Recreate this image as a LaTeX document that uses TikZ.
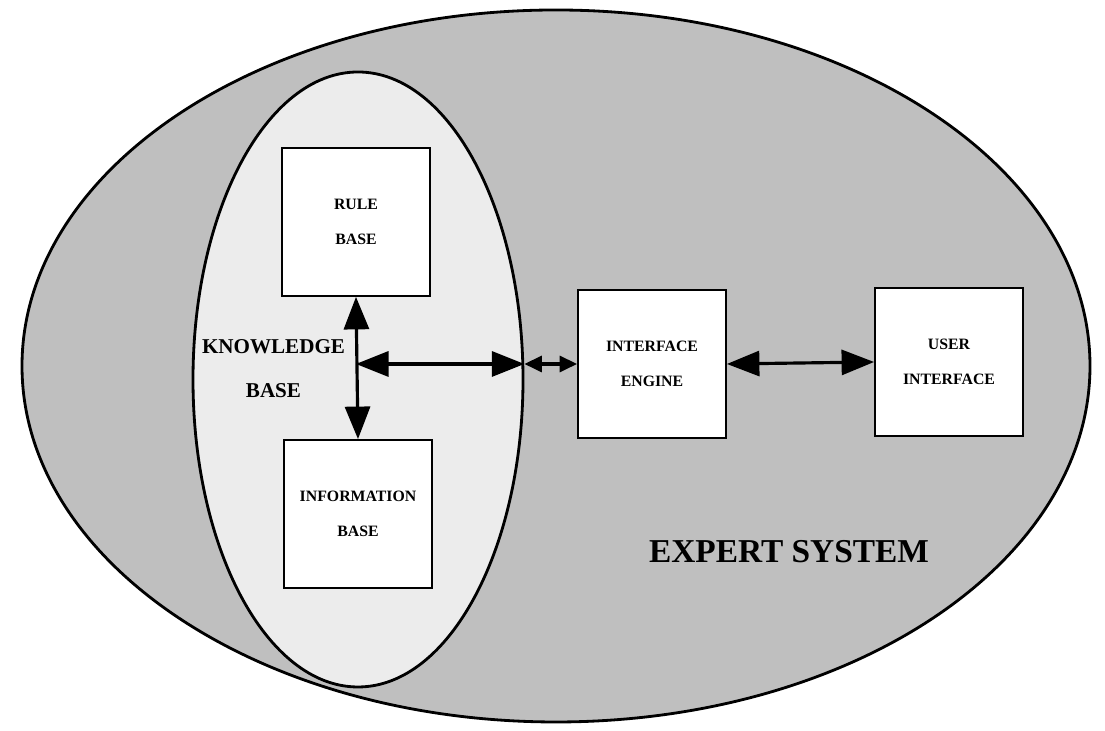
\documentclass[tikz,border=0pt]{standalone}
\usepackage{fontspec}
\setmainfont{Liberation Serif}
\usetikzlibrary{arrows.meta,shapes.geometric}
\tikzset{
  box/.style={draw, line width=1.3pt, fill=white, minimum width=2.95cm, minimum height=2.95cm,
    align=center, font=\bfseries\fontsize{9}{20}\selectfont},
  link/.style={{Triangle[length=0.65cm,width=0.5cm]}-{Triangle[length=0.65cm,width=0.5cm]}, line width=1.8pt},
  shortlink/.style={{Triangle[length=0.35cm,width=0.32cm]}-{Triangle[length=0.35cm,width=0.32cm]}, line width=1.8pt}
}
\begin{document}
\begin{tikzpicture}
\useasboundingbox (0,0) rectangle (22.1,14.62);
% the two ellipses
\node[ellipse, draw, line width=1.6pt, fill=gray!50, minimum width=21.36cm, minimum height=14.24cm] (es) at (11.12,7.30) {};
\node[ellipse, draw, line width=1.6pt, fill=gray!15, minimum width=6.6cm, minimum height=12.3cm] (kb) at (7.16,7.03) {};
% boxes
\node[box] (rb) at (7.12,10.18) {RULE\\BASE};
\node[box] (ib) at (7.16,4.34) {INFORMATION\\BASE};
\node[box] (ie) at (13.04,7.34) {INTERFACE\\ENGINE};
\node[box] (ui) at (18.98,7.38) {USER\\INTERFACE};
\node[align=center, font=\bfseries\fontsize{12}{25}\selectfont] (kblabel) at (5.47,7.25) {KNOWLEDGE\\BASE};
\node[font=\bfseries\fontsize{19}{24}\selectfont] (title) at (15.78,3.58) {EXPERT SYSTEM};
% arrows
\coordinate (mid) at (rb.south |- ie.west);
\draw[link] (rb.south) -- (ib.north);
\draw[link] (mid) -- (kb.east |- ie.west);
\draw[shortlink] (kb.east |- ie.west) -- (ie.west);
\draw[link] (ie.east) -- (ui.west);
\end{tikzpicture}
\end{document}
